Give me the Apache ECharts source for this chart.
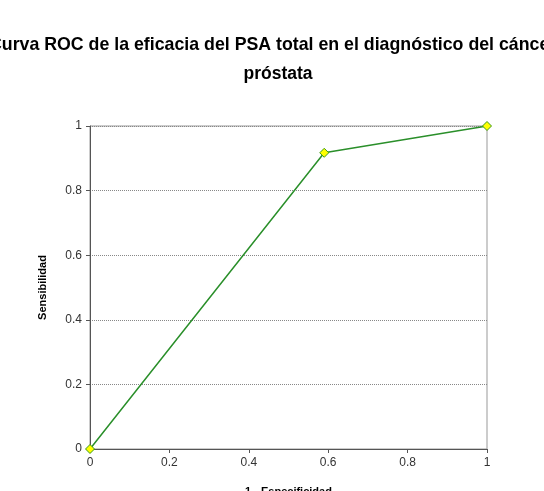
<!DOCTYPE html>
<html>
<head>
<meta charset="utf-8">
<script src="https://cdn.jsdelivr.net/npm/echarts@6/dist/echarts.min.js"></script>
<style>
	html, body {
		margin: 0;
		padding: 0;
		background: #fff;
	}
	#roc {
		width: 544px;
		height: 491px;
	}
</style>
</head>
<body>
<div id="roc"></div>
<script>
	// puntos de la curva ROC (1 - especificidad, sensibilidad)
	var especificidad = [0, 0.59, 1];
	var sensibilidad = [0, 0.917, 1];
	var xTicks = [0, 0.2, 0.4, 0.6, 0.8, 1];
	var yTicks = [0, 0.2, 0.4, 0.6, 0.8, 1];

	var puntos = [];
	for (var i = 0; i < especificidad.length; i++) {
		puntos.push([especificidad[i], sensibilidad[i]]);
	}

	var chart = echarts.init(document.getElementById('roc'));
	var fuente = '"Liberation Sans", Arial, sans-serif';

	var option = {
		backgroundColor: '#fff',
		animation: false,
		title: [{
			text: 'Curva ROC de la eficacia del PSA total en el diagnóstico del cáncer',
			left: -16,
			top: 31,
			textStyle: {
				fontFamily: fuente,
				fontSize: 17.75,
				fontWeight: 'bold',
				color: '#000'
			}
		}, {
			text: 'próstata',
			left: 273,
			textAlign: 'center',
			top: 60,
			textStyle: {
				fontFamily: fuente,
				fontSize: 17.5,
				fontWeight: 'bold',
				color: '#000'
			}
		}],
		grid: {
			left: 90,
			right: 57,
			top: 126,
			bottom: 42,
			outerBoundsMode: 'none',
			containLabel: false,
			show: true,
			borderColor: '#999',
			borderWidth: 1
		},
		xAxis: {
			type: 'value',
			min: 0,
			max: 1,
			interval: 0.2,
			name: '1 - Especificidad',
			nameLocation: 'middle',
			nameGap: 37,
			nameTextStyle: {
				fontFamily: fuente,
				fontSize: 11,
				fontWeight: 'bold',
				color: '#000'
			},
			axisLine: { lineStyle: { color: '#555', width: 1 } },
			axisTick: { show: true, length: 4, lineStyle: { color: '#555' } },
			axisLabel: {
				fontFamily: fuente,
				fontSize: 12,
				color: '#333',
				margin: 8,
				formatter: function (v) { return xTicks.indexOf(v) >= 0 ? String(v) : ''; }
			},
			splitLine: { show: false }
		},
		yAxis: {
			type: 'value',
			min: 0,
			max: 1,
			interval: 0.2,
			name: 'Sensibilidad',
			nameLocation: 'middle',
			nameGap: 42,
			nameTextStyle: {
				fontFamily: fuente,
				fontSize: 11,
				fontWeight: 'bold',
				color: '#000'
			},
			axisLine: { show: true, lineStyle: { color: '#555', width: 1 } },
			axisTick: { show: true, length: 4, lineStyle: { color: '#555' } },
			axisLabel: {
				fontFamily: fuente,
				fontSize: 12,
				color: '#333',
				margin: 8,
				formatter: function (v) { return yTicks.indexOf(v) >= 0 ? String(v) : ''; }
			},
			splitLine: {
				show: true,
				lineStyle: { color: '#888', width: 1, type: [1, 1] }
			}
		},
		series: [{
			type: 'line',
			data: puntos,
			symbol: 'diamond',
			symbolSize: 9,
			lineStyle: { color: '#2a8f2a', width: 1.5 },
			itemStyle: { color: '#ffff00', borderColor: '#3a9a1a', borderWidth: 1 }
		}]
	};

	chart.setOption(option);
</script>
</body>
</html>
